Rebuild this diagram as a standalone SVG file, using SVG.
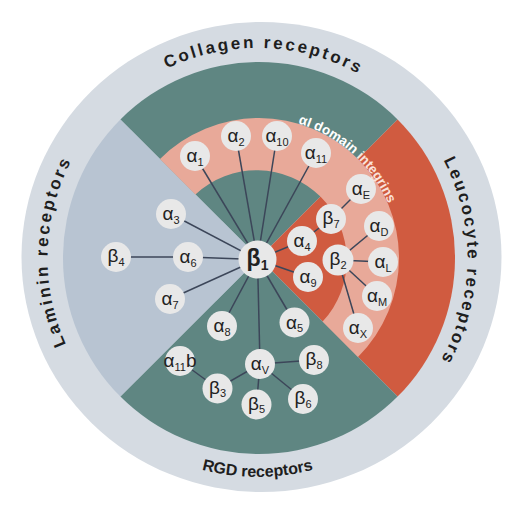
<svg xmlns="http://www.w3.org/2000/svg" width="514" height="508" viewBox="0 0 514 508">
<defs>
<style>
.node circle{fill:#e8e8e8}
.lbl{font-family:"Liberation Sans",Arial,sans-serif;font-size:19px;fill:#222;text-anchor:middle}
.sub{font-size:11px}
.b1{font-weight:bold;font-size:23px}
.ring-lbl{font-family:"Liberation Sans",Arial,sans-serif;font-weight:bold;font-size:17px;fill:#1e1e1e;text-anchor:middle}
.spaced{letter-spacing:2.6px}
.ai{font-family:"Liberation Sans",Arial,sans-serif;font-weight:bold;font-size:13.5px;fill:#ffffff}
#connectors line{stroke:#3c4659;stroke-width:1.5}
</style>
<path id="arcTop" d="M47.5,258 A210,210 0 0 1 467.5,258"/>
<path id="arcRight" d="M257.5,48 A210,210 0 0 1 257.5,468"/>
<path id="arcLeft" d="M257.5,468 A210,210 0 0 1 257.5,48"/>
<path id="arcBottom" d="M38.5,258 A219,219 0 0 0 476.5,258"/>
<path id="arcAI" d="M159.3,158.3 A141,141 0 0 1 358.7,357.7"/>
</defs>
<rect width="514" height="508" fill="#ffffff"/>
<g id="background">
<ellipse cx="261.5" cy="257" rx="240" ry="235" fill="#d5dbe2"/>
<path d="M259,258 L120.4,119.4 A196,196 0 0 1 397.6,119.4 Z" fill="#5f8682"/>
<path d="M259,258 L397.6,119.4 A196,196 0 0 1 397.6,396.6 Z" fill="#d05b40"/>
<path d="M259,258 L397.6,396.6 A196,196 0 0 1 120.4,396.6 Z" fill="#5f8682"/>
<path d="M259,258 L120.4,396.6 A196,196 0 0 1 120.4,119.4 Z" fill="#b8c4d2"/>
<path d="M160,159 A140,140 0 0 1 358,357 L322.6,321.6 A90,90 0 0 0 195.4,194.4 Z" fill="#e8a999"/>
</g>
<g id="ring-labels">
<text class="ring-lbl spaced"><textPath href="#arcTop" startOffset="51%">Collagen receptors</textPath></text>
<text class="ring-lbl spaced" style="letter-spacing:2.3px"><textPath href="#arcRight" startOffset="50.5%">Leucocyte receptors</textPath></text>
<text class="ring-lbl spaced"><textPath href="#arcLeft" startOffset="51%">Laminin receptors</textPath></text>
<text class="ring-lbl" style="font-size:16px"><textPath href="#arcBottom" startOffset="50%">RGD receptors</textPath></text>
<text class="ai"><textPath href="#arcAI" startOffset="150">αI domain <tspan fill="#fbe2da">integrins</tspan></textPath></text>
</g>
<g id="connectors">
<line x1="257.5" y1="259.5" x2="195" y2="156"/>
<line x1="257.5" y1="259.5" x2="236" y2="136"/>
<line x1="257.5" y1="259.5" x2="277" y2="136"/>
<line x1="257.5" y1="259.5" x2="316" y2="153"/>
<line x1="257.5" y1="259.5" x2="171" y2="214"/>
<line x1="257.5" y1="259.5" x2="188" y2="257"/>
<line x1="257.5" y1="259.5" x2="170" y2="299"/>
<line x1="188" y1="257" x2="116" y2="257"/>
<line x1="257.5" y1="259.5" x2="302" y2="241"/>
<line x1="257.5" y1="259.5" x2="308" y2="277"/>
<line x1="257.5" y1="259.5" x2="222" y2="326"/>
<line x1="257.5" y1="259.5" x2="294.5" y2="322.5"/>
<line x1="257.5" y1="259.5" x2="260" y2="364"/>
<line x1="302" y1="241" x2="331" y2="219"/>
<line x1="331" y1="219" x2="361" y2="189"/>
<line x1="338" y1="260" x2="379" y2="226"/>
<line x1="338" y1="260" x2="383" y2="262"/>
<line x1="338" y1="260" x2="377" y2="296"/>
<line x1="338" y1="260" x2="358" y2="328"/>
<line x1="260" y1="364" x2="217.5" y2="388.5"/>
<line x1="260" y1="364" x2="256.5" y2="404.5"/>
<line x1="260" y1="364" x2="303" y2="399"/>
<line x1="260" y1="364" x2="314" y2="360"/>
<line x1="217.5" y1="388.5" x2="180" y2="361"/>
</g>
<g id="n-b1" class="node"><circle cx="257.5" cy="259.5" r="19"/><text class="lbl b1" x="257.5" y="266">β<tspan dy="4" font-size="14">1</tspan></text></g>
<g id="n-a1" class="node"><circle cx="195" cy="156" r="15"/><text class="lbl" x="195" y="162">α<tspan class="sub" dy="3.5">1</tspan></text></g>
<g id="n-a2" class="node"><circle cx="236" cy="136" r="15"/><text class="lbl" x="236" y="142">α<tspan class="sub" dy="3.5">2</tspan></text></g>
<g id="n-a10" class="node"><circle cx="277" cy="136" r="15"/><text class="lbl" x="277" y="142">α<tspan class="sub" dy="3.5">10</tspan></text></g>
<g id="n-a11" class="node"><circle cx="316" cy="153" r="15"/><text class="lbl" x="316" y="159">α<tspan class="sub" dy="3.5">11</tspan></text></g>
<g id="n-aE" class="node"><circle cx="361" cy="189" r="15"/><text class="lbl" x="361" y="195">α<tspan class="sub" dy="3.5">E</tspan></text></g>
<g id="n-b7" class="node"><circle cx="331" cy="219" r="15"/><text class="lbl" x="331" y="224">β<tspan class="sub" dy="3.5">7</tspan></text></g>
<g id="n-aD" class="node"><circle cx="379" cy="226" r="15"/><text class="lbl" x="379" y="232">α<tspan class="sub" dy="3.5">D</tspan></text></g>
<g id="n-a4" class="node"><circle cx="302" cy="241" r="15"/><text class="lbl" x="302" y="247">α<tspan class="sub" dy="3.5">4</tspan></text></g>
<g id="n-b2" class="node"><circle cx="338" cy="260" r="15.5"/><text class="lbl" x="338" y="265">β<tspan class="sub" dy="3.5">2</tspan></text></g>
<g id="n-aL" class="node"><circle cx="383" cy="262" r="15"/><text class="lbl" x="383" y="268">α<tspan class="sub" dy="3.5">L</tspan></text></g>
<g id="n-a9" class="node"><circle cx="308" cy="277" r="15"/><text class="lbl" x="308" y="283">α<tspan class="sub" dy="3.5">9</tspan></text></g>
<g id="n-aM" class="node"><circle cx="377" cy="296" r="15"/><text class="lbl" x="377" y="302">α<tspan class="sub" dy="3.5">M</tspan></text></g>
<g id="n-aX" class="node"><circle cx="358" cy="328" r="15"/><text class="lbl" x="358" y="334">α<tspan class="sub" dy="3.5">X</tspan></text></g>
<g id="n-a3" class="node"><circle cx="171" cy="214" r="15"/><text class="lbl" x="171" y="220">α<tspan class="sub" dy="3.5">3</tspan></text></g>
<g id="n-b4" class="node"><circle cx="116" cy="257" r="15"/><text class="lbl" x="116" y="262">β<tspan class="sub" dy="3.5">4</tspan></text></g>
<g id="n-a6" class="node"><circle cx="188" cy="257" r="15"/><text class="lbl" x="188" y="263">α<tspan class="sub" dy="3.5">6</tspan></text></g>
<g id="n-a7" class="node"><circle cx="170" cy="299" r="15"/><text class="lbl" x="170" y="305">α<tspan class="sub" dy="3.5">7</tspan></text></g>
<g id="n-a8" class="node"><circle cx="222" cy="326" r="15"/><text class="lbl" x="222" y="332">α<tspan class="sub" dy="3.5">8</tspan></text></g>
<g id="n-a5" class="node"><circle cx="294.5" cy="322.5" r="15"/><text class="lbl" x="294.5" y="328.5">α<tspan class="sub" dy="3.5">5</tspan></text></g>
<g id="n-a11b" class="node"><circle cx="180" cy="361" r="15"/><text class="lbl" x="180" y="367">α<tspan class="sub" dy="3.5">11</tspan><tspan dy="-3.5">b</tspan></text></g>
<g id="n-aV" class="node"><circle cx="260" cy="364" r="15"/><text class="lbl" x="260" y="370">α<tspan class="sub" dy="3.5">V</tspan></text></g>
<g id="n-b8" class="node"><circle cx="314" cy="360" r="15"/><text class="lbl" x="314" y="365">β<tspan class="sub" dy="3.5">8</tspan></text></g>
<g id="n-b3" class="node"><circle cx="217.5" cy="388.5" r="15"/><text class="lbl" x="217.5" y="393.5">β<tspan class="sub" dy="3.5">3</tspan></text></g>
<g id="n-b5" class="node"><circle cx="256.5" cy="404.5" r="15"/><text class="lbl" x="256.5" y="409.5">β<tspan class="sub" dy="3.5">5</tspan></text></g>
<g id="n-b6" class="node"><circle cx="303" cy="399" r="15"/><text class="lbl" x="303" y="404">β<tspan class="sub" dy="3.5">6</tspan></text></g>
</svg>
